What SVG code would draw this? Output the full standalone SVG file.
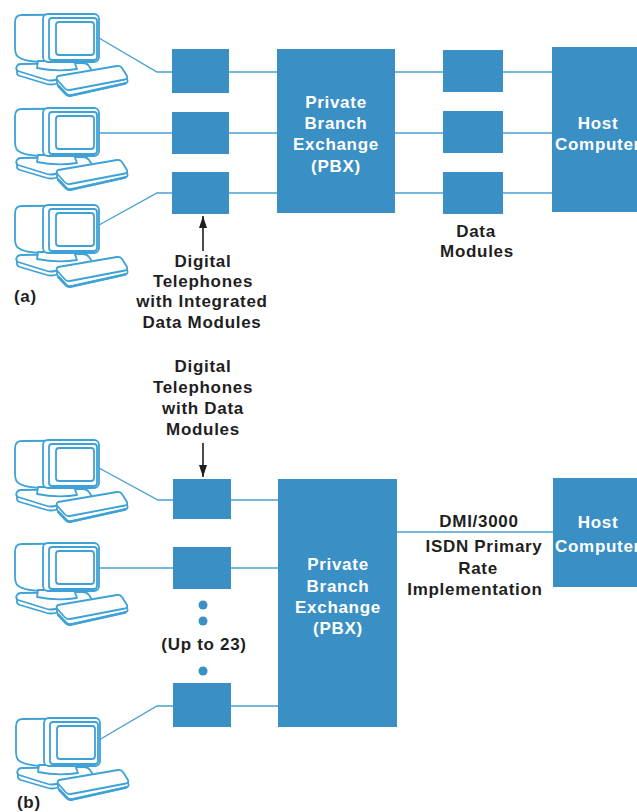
<svg xmlns="http://www.w3.org/2000/svg" xmlns:xlink="http://www.w3.org/1999/xlink" width="637" height="812" viewBox="0 0 637 812">
  <style>
    .box { fill: #3a8fc5; }
    .wire { stroke: #4aa0d3; stroke-width: 1.4; fill: none; }
    .term path, .term rect { stroke: #3ea2d6; stroke-width: 1.8; fill: #ffffff; stroke-linejoin: round; stroke-linecap: round; }
    .term .heavy { stroke-width: 2.8; fill: none; }
    .term .open { fill: none; }
    text { font-family: "Liberation Sans", Arial, Helvetica, sans-serif; font-weight: bold; font-size: 17px; letter-spacing: 0.7px; text-anchor: middle; }
    .in { fill: #ffffff; }
    .lbl { fill: #1f1f1f; }
    .tag { text-anchor: start; }
    .ptr { stroke: #1f1f1f; stroke-width: 1.6; fill: none; }
    .dot { fill: #3a8fc5; }
  </style>
  <defs>
    <marker id="head" markerUnits="userSpaceOnUse" markerWidth="12" markerHeight="8" refX="12" refY="4" orient="auto">
      <path d="M0,0 L12,4 L0,8 Z" fill="#1f1f1f"/>
    </marker>
    <!-- video terminal: monitor on a stand plus keyboard, outline style -->
    <g id="terminal" class="term">
      <path d="M2,10 Q2,3 9,3 L80,2.5 L80,50 L28,50 Q7,49 3.5,43 Q2,40 2,36 Z"/>
      <path d="M8,52 L70,51 Q74,51 76,54 L78,57 Q79,59 76,60 L42,68 Q38,69 34,68 L5,59 Q2,57 4,54 Q5,52 8,52 Z"/>
      <path class="open" d="M4,58 L4,61 Q4,63 7,64 L34,72 Q38,73 42,72 L50,70"/>
      <path d="M25,49 L24,56 Q44,60 64,57 L61,49 Z"/>
      <rect x="30" y="2" width="56" height="48" rx="5"/>
      <rect x="36" y="6" width="48" height="42" rx="3"/>
      <rect x="43" y="10" width="38" height="33" rx="3"/>
      <path d="M44,67.5 L44,71 Q44,72.5 45.5,74 L53,82 Q55,84 58,83.5 L112,71.5 Q115,70.8 114.5,68.5 L114,66.5 Z"/>
      <path d="M45,64 L104,54 Q107,53.5 109,56 L114,64 Q115,66.5 112,67.5 L57,78 Q54,78.6 52,76.5 L44,67.5 Q43,65 45,64 Z"/>
      <path class="heavy" d="M45.5,74 L53,82 Q55,84 58,83.5 L112,71.5"/>
    </g>
  </defs>

  <!-- connectors -->
  <g id="connectors">
    <polyline class="wire" points="99,38 157,72 172,72"/>
    <line class="wire" x1="229" y1="72" x2="277" y2="72"/>
    <line class="wire" x1="395" y1="72" x2="443" y2="72"/>
    <line class="wire" x1="503" y1="72" x2="552" y2="72"/>
    <line class="wire" x1="99" y1="133" x2="172" y2="133"/>
    <line class="wire" x1="229" y1="133" x2="277" y2="133"/>
    <line class="wire" x1="395" y1="133" x2="443" y2="133"/>
    <line class="wire" x1="503" y1="133" x2="552" y2="133"/>
    <polyline class="wire" points="99,225 157,193 172,193"/>
    <line class="wire" x1="229" y1="193" x2="277" y2="193"/>
    <line class="wire" x1="395" y1="193" x2="443" y2="193"/>
    <line class="wire" x1="503" y1="193" x2="552" y2="193"/>

    <polyline class="wire" points="99,468 158,500 173,500"/>
    <line class="wire" x1="231" y1="500" x2="278" y2="500"/>
    <line class="wire" x1="99" y1="568" x2="173" y2="568"/>
    <line class="wire" x1="231" y1="568" x2="278" y2="568"/>
    <polyline class="wire" points="99,740 157,706 173,706"/>
    <line class="wire" x1="231" y1="706" x2="278" y2="706"/>
    <line class="wire" x1="397" y1="532" x2="553" y2="532"/>

    <line class="ptr" x1="203" y1="251" x2="203" y2="216" marker-end="url(#head)"/>
    <line class="ptr" x1="203" y1="443" x2="203" y2="477" marker-end="url(#head)"/>
  </g>

  <!-- (a) terminals -->
  <g id="term-a1"><use xlink:href="#terminal" href="#terminal" x="13" y="12"/></g>
  <g id="term-a2"><use xlink:href="#terminal" href="#terminal" x="13" y="106"/></g>
  <g id="term-a3"><use xlink:href="#terminal" href="#terminal" x="13" y="203"/></g>

  <!-- (a) integrated telephones -->
  <g id="phone-a1"><rect class="box" x="172" y="49" width="57" height="44"/></g>
  <g id="phone-a2"><rect class="box" x="172" y="112" width="57" height="42"/></g>
  <g id="phone-a3"><rect class="box" x="172" y="172" width="57" height="42"/></g>

  <g id="pbx-a">
    <rect class="box" x="277" y="49" width="118" height="164"/>
    <text class="in" x="336" y="108">Private</text>
    <text class="in" x="336" y="129">Branch</text>
    <text class="in" x="336" y="150">Exchange</text>
    <text class="in" x="336" y="172">(PBX)</text>
  </g>

  <g id="dm-a1"><rect class="box" x="443" y="50" width="60" height="42"/></g>
  <g id="dm-a2"><rect class="box" x="443" y="111" width="60" height="42"/></g>
  <g id="dm-a3"><rect class="box" x="443" y="172" width="60" height="42"/></g>

  <g id="host-a">
    <rect class="box" x="552" y="47" width="90" height="165"/>
    <text class="in" x="598" y="129">Host</text>
    <text class="in" x="598" y="150">Computer</text>
  </g>

  <g id="labels-a">
    <text class="lbl" x="476" y="237">Data</text>
    <text class="lbl" x="477" y="257">Modules</text>
    <text class="lbl" x="203" y="267">Digital</text>
    <text class="lbl" x="203" y="287">Telephones</text>
    <text class="lbl" x="202" y="307">with Integrated</text>
    <text class="lbl" x="202" y="328">Data Modules</text>
    <text class="lbl tag" x="14" y="302">(a)</text>
  </g>

  <!-- (b) terminals -->
  <g id="term-b1"><use xlink:href="#terminal" href="#terminal" x="13" y="438"/></g>
  <g id="term-b2"><use xlink:href="#terminal" href="#terminal" x="13" y="541"/></g>
  <g id="term-b3"><use xlink:href="#terminal" href="#terminal" x="14" y="716"/></g>

  <g id="phone-b1"><rect class="box" x="173" y="479" width="58" height="40"/></g>
  <g id="phone-b2"><rect class="box" x="173" y="547" width="58" height="42"/></g>
  <g id="phone-b3"><rect class="box" x="173" y="683" width="58" height="44"/></g>

  <g id="ellipsis">
    <circle class="dot" cx="203" cy="605" r="4.5"/>
    <circle class="dot" cx="203" cy="621" r="4.5"/>
    <circle class="dot" cx="203" cy="671" r="4.5"/>
    <text class="lbl" x="204" y="650">(Up to 23)</text>
  </g>

  <g id="pbx-b">
    <rect class="box" x="278" y="479" width="119" height="248"/>
    <text class="in" x="338" y="570">Private</text>
    <text class="in" x="338" y="592">Branch</text>
    <text class="in" x="338" y="613">Exchange</text>
    <text class="in" x="338" y="634">(PBX)</text>
  </g>

  <g id="host-b">
    <rect class="box" x="553" y="478" width="90" height="109"/>
    <text class="in" x="598" y="528">Host</text>
    <text class="in" x="598" y="552">Computer</text>
  </g>

  <g id="labels-b">
    <text class="lbl" x="203" y="372">Digital</text>
    <text class="lbl" x="203" y="393">Telephones</text>
    <text class="lbl" x="203" y="414">with Data</text>
    <text class="lbl" x="203" y="435">Modules</text>
    <text class="lbl" x="479" y="527">DMI/3000</text>
    <text class="lbl" x="484" y="552">ISDN Primary</text>
    <text class="lbl" x="478" y="574">Rate</text>
    <text class="lbl" x="475" y="595">Implementation</text>
    <text class="lbl tag" x="17" y="808">(b)</text>
  </g>
</svg>
